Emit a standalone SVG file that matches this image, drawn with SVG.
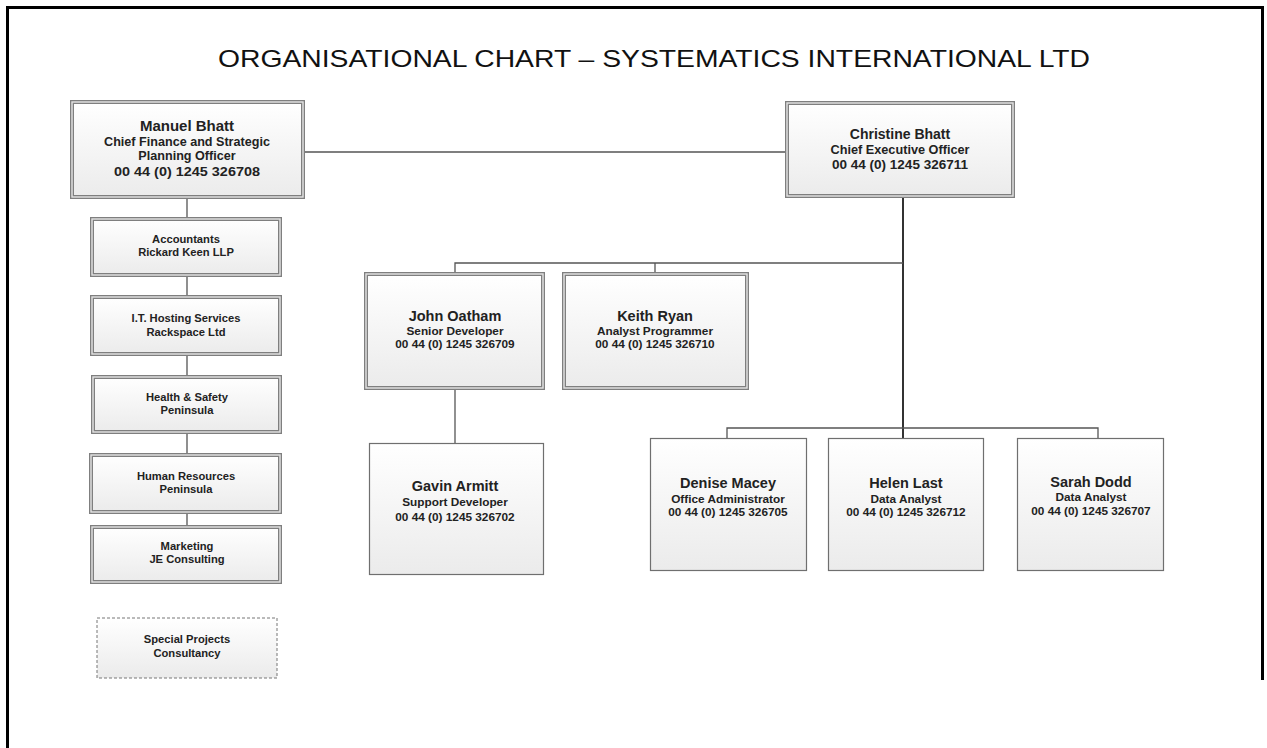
<svg xmlns="http://www.w3.org/2000/svg" width="1267" height="748" viewBox="0 0 1267 748">
  <defs>
    <linearGradient id="boxFill" x1="0" y1="0" x2="0" y2="1">
      <stop offset="0" stop-color="#ffffff"/>
      <stop offset="1" stop-color="#ebebeb"/>
    </linearGradient>
  </defs>
  <style>
    .frame { fill: none; stroke: #000; stroke-width: 3; }
    .title { font-family: "Liberation Sans", Arial, sans-serif; font-size: 24px; font-weight: normal; fill: #111; }
    .dbl-out { fill: url(#boxFill); stroke: #7f7f7f; stroke-width: 4; }
    .dbl-in { fill: none; stroke: #e4e4e4; stroke-width: 1.4; }
    .single { fill: url(#boxFill); stroke: #6f6f6f; stroke-width: 1.2; }
    .dashed { fill: url(#boxFill); stroke: #777; stroke-width: 1; stroke-dasharray: 3 2; }
    .conn { fill: none; stroke: #555; stroke-width: 1.3; }
    .conn-main { fill: none; stroke: #333; stroke-width: 2; }
    text { font-family: "Liberation Sans", Arial, sans-serif; font-weight: bold; fill: #222; text-anchor: middle; }
    .name { font-size: 14.5px; }
    .sub { font-size: 11.8px; }
    .side { font-size: 11.2px; }
  </style>

  <!-- page frame -->
  <path class="frame" d="M7.5,760 V7.5 H1262.5 V680"/>

  <text class="title" x="654" y="67" textLength="872" lengthAdjust="spacingAndGlyphs">ORGANISATIONAL CHART – SYSTEMATICS INTERNATIONAL LTD</text>

  <!-- connectors -->
  <g id="connectors">
    <path class="conn" d="M303,152 H787"/>
    <path class="conn" d="M187,197 V219 M187,275 V297 M187,354 V377 M187,432 V455 M187,512 V527"/>
    <path class="conn-main" d="M903,196 V440"/>
    <path class="conn" d="M455,274 V263 H903 M655,263 V274"/>
    <path class="conn" d="M455,388 V443"/>
    <path class="conn" d="M727,438 V428 H1098 V438"/>
  </g>

  <!-- executives -->
  <g id="manuel-bhatt">
    <rect class="dbl-out" x="72" y="102" width="231" height="95"/>
    <rect class="dbl-in" x="72" y="102" width="231" height="95"/>
    <text class="name" x="187" y="131" style="font-size:15px">Manuel Bhatt</text>
    <text class="sub" x="187" y="146" style="font-size:12.6px">Chief Finance and Strategic</text>
    <text class="sub" x="187" y="160" style="font-size:12.6px">Planning Officer</text>
    <text class="sub" x="187" y="176" textLength="146" lengthAdjust="spacingAndGlyphs" style="font-size:13.5px">00 44 (0) 1245 326708</text>
  </g>

  <g id="christine-bhatt">
    <rect class="dbl-out" x="787" y="103" width="226" height="93"/>
    <rect class="dbl-in" x="787" y="103" width="226" height="93"/>
    <text class="name" x="900" y="139" style="font-size:14px">Christine Bhatt</text>
    <text class="sub" x="900" y="154" style="font-size:12.7px">Chief Executive Officer</text>
    <text class="sub" x="900" y="169" textLength="136" lengthAdjust="spacingAndGlyphs" style="font-size:13px">00 44 (0) 1245 326711</text>
  </g>

  <!-- external services -->
  <g id="accountants">
    <rect class="dbl-out" x="92" y="219" width="188" height="56"/>
    <rect class="dbl-in" x="92" y="219" width="188" height="56"/>
    <text class="side" x="186" y="243">Accountants</text>
    <text class="side" x="186" y="256">Rickard Keen LLP</text>
  </g>

  <g id="it-hosting">
    <rect class="dbl-out" x="92" y="297" width="188" height="57"/>
    <rect class="dbl-in" x="92" y="297" width="188" height="57"/>
    <text class="side" x="186" y="322">I.T. Hosting Services</text>
    <text class="side" x="186" y="336">Rackspace Ltd</text>
  </g>

  <g id="health-safety">
    <rect class="dbl-out" x="93" y="377" width="187" height="55"/>
    <rect class="dbl-in" x="93" y="377" width="187" height="55"/>
    <text class="side" x="187" y="401">Health &amp; Safety</text>
    <text class="side" x="187" y="414">Peninsula</text>
  </g>

  <g id="human-resources">
    <rect class="dbl-out" x="91" y="455" width="189" height="57"/>
    <rect class="dbl-in" x="91" y="455" width="189" height="57"/>
    <text class="side" x="186" y="480">Human Resources</text>
    <text class="side" x="186" y="493">Peninsula</text>
  </g>

  <g id="marketing">
    <rect class="dbl-out" x="92" y="527" width="188" height="55"/>
    <rect class="dbl-in" x="92" y="527" width="188" height="55"/>
    <text class="side" x="187" y="550">Marketing</text>
    <text class="side" x="187" y="563">JE Consulting</text>
  </g>

  <g id="special-projects">
    <rect class="dashed" x="97" y="618" width="180" height="60"/>
    <text class="side" x="187" y="643">Special Projects</text>
    <text class="side" x="187" y="657">Consultancy</text>
  </g>

  <!-- development team -->
  <g id="john-oatham">
    <rect class="dbl-out" x="366" y="274" width="177" height="114"/>
    <rect class="dbl-in" x="366" y="274" width="177" height="114"/>
    <text class="name" x="455" y="321">John Oatham</text>
    <text class="sub" x="455" y="335">Senior Developer</text>
    <text class="sub" x="455" y="348">00 44 (0) 1245 326709</text>
  </g>

  <g id="keith-ryan">
    <rect class="dbl-out" x="564" y="274" width="183" height="114"/>
    <rect class="dbl-in" x="564" y="274" width="183" height="114"/>
    <text class="name" x="655" y="321">Keith Ryan</text>
    <text class="sub" x="655" y="335">Analyst Programmer</text>
    <text class="sub" x="655" y="348">00 44 (0) 1245 326710</text>
  </g>

  <g id="gavin-armitt">
    <rect class="single" x="369.5" y="443.5" width="174" height="131"/>
    <text class="name" x="455" y="491">Gavin Armitt</text>
    <text class="sub" x="455" y="506">Support Developer</text>
    <text class="sub" x="455" y="521">00 44 (0) 1245 326702</text>
  </g>

  <!-- administration and analysis -->
  <g id="denise-macey">
    <rect class="single" x="650.5" y="438.5" width="156" height="132"/>
    <text class="name" x="728" y="488">Denise Macey</text>
    <text class="sub" x="728" y="503">Office Administrator</text>
    <text class="sub" x="728" y="516">00 44 (0) 1245 326705</text>
  </g>

  <g id="helen-last">
    <rect class="single" x="828.5" y="438.5" width="155" height="132"/>
    <text class="name" x="906" y="488">Helen Last</text>
    <text class="sub" x="906" y="503">Data Analyst</text>
    <text class="sub" x="906" y="516">00 44 (0) 1245 326712</text>
  </g>

  <g id="sarah-dodd">
    <rect class="single" x="1017.5" y="438.5" width="146" height="132"/>
    <text class="name" x="1091" y="487">Sarah Dodd</text>
    <text class="sub" x="1091" y="501">Data Analyst</text>
    <text class="sub" x="1091" y="515">00 44 (0) 1245 326707</text>
  </g>
</svg>
